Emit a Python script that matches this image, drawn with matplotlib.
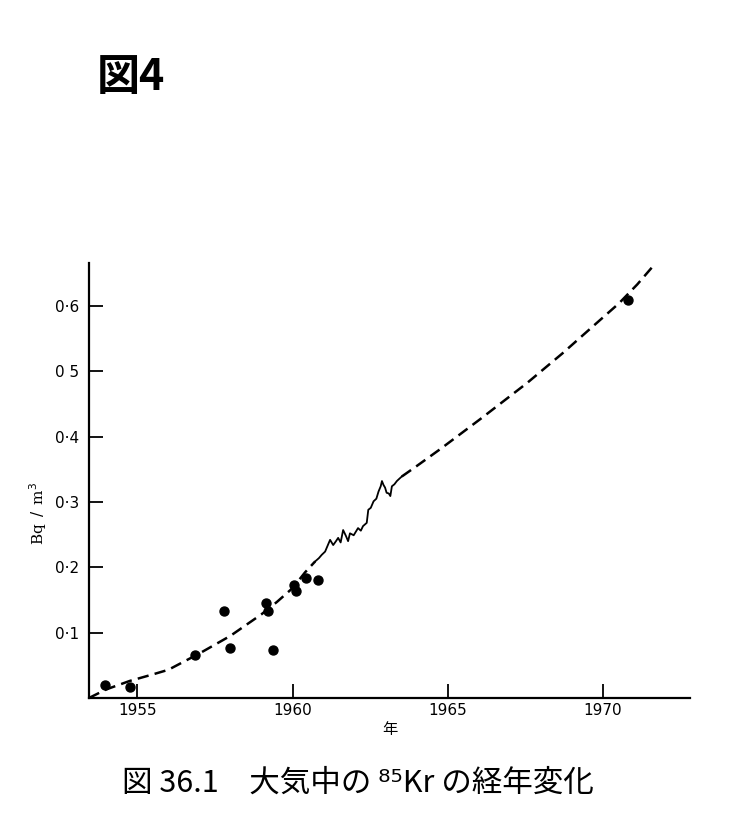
import matplotlib.pyplot as plt

# measured points (year, Bq/m3)
pt_year = [1953.95, 1954.76, 1956.85, 1957.79, 1957.98, 1959.15, 1959.22,
           1959.38, 1960.06, 1960.11, 1960.43, 1960.83, 1970.79]
pt_val = [0.020, 0.0165, 0.065, 0.133, 0.077, 0.146, 0.133,
          0.074, 0.173, 0.164, 0.183, 0.181, 0.609]

# dashed curve, before the monitored record
early_year = [1953.45, 1954.0, 1954.76, 1955.5, 1956.0, 1957.0, 1958.0,
              1959.0, 1959.5, 1960.0, 1960.4, 1960.73]
early_val = [0.0, 0.013, 0.026, 0.036, 0.043, 0.068, 0.095,
             0.128, 0.147, 0.168, 0.192, 0.209]

# jagged monitored record
rec_year = [1960.73, 1960.85, 1960.94, 1961.05, 1961.21, 1961.31, 1961.40,
            1961.47, 1961.55, 1961.63, 1961.72, 1961.79, 1961.85, 1961.97,
            1962.11, 1962.20, 1962.27, 1962.39, 1962.44, 1962.52, 1962.61,
            1962.70, 1962.77, 1962.84, 1962.88, 1962.93, 1962.98, 1963.03,
            1963.10, 1963.15, 1963.20, 1963.28, 1963.36, 1963.45, 1963.52]
rec_val = [0.209, 0.214, 0.219, 0.224, 0.242, 0.234, 0.240,
           0.245, 0.238, 0.257, 0.248, 0.240, 0.252, 0.249,
           0.260, 0.256, 0.263, 0.268, 0.288, 0.291, 0.301,
           0.305, 0.316, 0.324, 0.332, 0.326, 0.322, 0.314,
           0.313, 0.309, 0.324, 0.327, 0.332, 0.336, 0.339]

# dashed curve, extrapolation after the record
late_year = [1963.52, 1964.0, 1964.76, 1966.05, 1967.55, 1968.68, 1969.70,
             1970.51, 1971.1, 1971.59]
late_val = [0.339, 0.355, 0.381, 0.427, 0.482, 0.527, 0.570,
            0.604, 0.633, 0.660]

xticks = [1955, 1960, 1965, 1970]
yticks = [0.1, 0.2, 0.3, 0.4, 0.5, 0.6]
ytick_labels = ['0·1', '0·2', '0·3', '0·4', '0 5', '0·6']

fig = plt.figure(figsize=(7.36, 8.24), dpi=100)
ax = fig.add_axes([0.121, 0.153, 0.8166, 0.528])

ax.plot(early_year, early_val, color='black', lw=1.8, ls=(0, (4.5, 2.5)))
ax.plot(rec_year, rec_val, color='black', lw=1.3)
ax.plot(late_year, late_val, color='black', lw=1.8, ls=(0, (4.5, 2.5)))
ax.scatter(pt_year, pt_val, s=42, color='black', zorder=3)

ax.set_xlim(1953.45, 1972.8)
ax.set_ylim(0, 0.666)
ax.spines['top'].set_visible(False)
ax.spines['right'].set_visible(False)
for s in ['left', 'bottom']:
    ax.spines[s].set_linewidth(1.6)

ax.set_xticks(xticks)
ax.set_xticklabels([str(v) for v in xticks], fontsize=11)
ax.set_yticks(yticks)
ax.set_yticklabels(ytick_labels, fontsize=11)
ax.tick_params(axis='both', direction='in', length=10, width=1.3)
ax.tick_params(axis='x', pad=4)
ax.tick_params(axis='y', pad=7)

ax.set_xlabel('年', family=['Noto Sans CJK JP'], fontsize=11, labelpad=2)
ax.set_ylabel('Bq $\\,/\\,$ m$^3$', family=['DejaVu Serif'], fontsize=11)
ax.yaxis.set_label_coords(-0.066, 0.425)

fig.text(0.131, 0.907, '図4', family=['Noto Sans CJK JP'], fontsize=31,
         fontweight='bold', ha='left', va='center')

fig.text(0.486, 0.049, '図 36.1　大気中の ⁸⁵Kr の経年変化',
         family=['Noto Sans CJK JP', 'DejaVu Sans'], fontsize=22,
         ha='center', va='center')

fig.savefig('out.png', dpi=100)
